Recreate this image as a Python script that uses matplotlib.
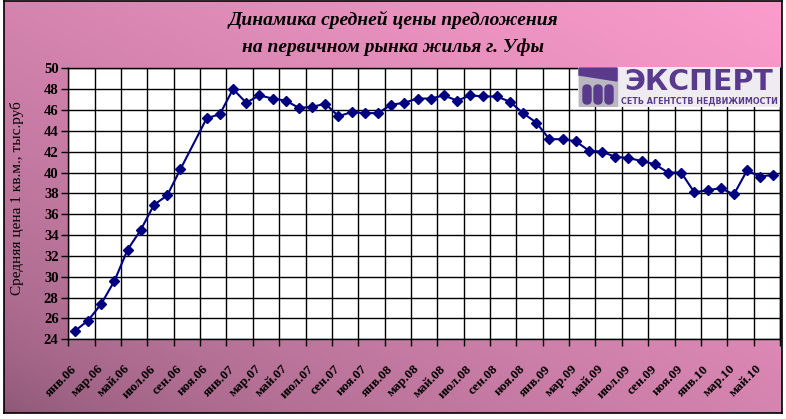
import numpy as np
import matplotlib
matplotlib.use("Agg")
import matplotlib.pyplot as plt
from matplotlib.colors import to_rgb
from matplotlib.patches import Rectangle, Polygon, FancyBboxPatch

# monthly categories, jan 2006 .. jun 2010
months = ["янв", "фев", "мар", "апр", "май", "июн", "июл", "авг", "сен", "окт", "ноя", "дек"]
years = ["06", "07", "08", "09", "10"]
categories = [f"{m}.{y}" for y in years for m in months][:54]

# average offer price, thousand rub per m2 (Oct 2006 missing in source)
price = [24.8, 25.8, 27.4, 29.6, 32.6, 34.5, 36.9, 37.8, 40.3, None, 45.2, 45.6,
         48.0, 46.7, 47.4, 47.1, 46.9, 46.2, 46.3, 46.6, 45.4, 45.8, 45.7, 45.7,
         46.5, 46.7, 47.1, 47.1, 47.4, 46.9, 47.4, 47.3, 47.3, 46.8, 45.7, 44.8,
         43.2, 43.2, 43.0, 42.1, 42.0, 41.5, 41.4, 41.1, 40.8, 40.0, 40.0, 38.1,
         38.3, 38.5, 37.9, 40.2, 39.6, 39.8]

title_lines = ["Динамика средней цены предложения", "на первичном рынка жилья г. Уфы"]
y_label = "Средняя цена 1 кв.м., тыс.руб"

W, H = 786, 419
fig = plt.figure(figsize=(W / 100, H / 100), dpi=100)
fig.patch.set_facecolor("white")

# pink gradient chart background with black border
bg = fig.add_axes([4 / W, 6 / H, 778 / W, 412 / H])
c_dark = np.array(to_rgb("#8a5674"))
c_light = np.array(to_rgb("#fb9ccd"))
gx, gy = np.meshgrid(np.linspace(0, 1, 200), np.linspace(0, 1, 120))
t = np.clip(0.5 * gx + 0.5 * gy, 0, 1) ** 0.6
t = t[..., None]
bg.imshow(c_dark * (1 - t) + c_light * t, origin="lower", aspect="auto", extent=[0, 1, 0, 1])
bg.set_xticks([])
bg.set_yticks([])
for s in bg.spines.values():
    s.set_linewidth(1.2)
    s.set_color("black")

serif = "Liberation Serif"

for i, line in enumerate(title_lines):
    fig.text(0.5, 1 - (20 + 27 * i) / H, line, ha="center", va="center",
             fontsize=14, fontweight="bold", fontstyle="italic", family=serif)

ax = fig.add_axes([68.3 / W, 79.7 / H, 711.7 / W, 271 / H])
ax.set_facecolor("white")

n = len(categories)
xs = [i + 0.5 for i, v in enumerate(price) if v is not None]
ys = [v for v in price if v is not None]
ax.plot(xs, ys, color="#000080", lw=1.5, marker="D", markersize=5.5,
        markerfacecolor="#000080", markeredgecolor="#000080", zorder=3)

ax.set_xlim(0, n)
ax.set_ylim(24, 50)
ax.set_yticks(np.arange(24, 51, 2))
ax.set_xticks(np.arange(0, n + 1, 2))
ax.set_xticklabels([])
ax.set_xticks(np.arange(0, n, 2) + 0.5, minor=True)
ax.set_xticklabels(categories[::2], minor=True, rotation=45, ha="right",
                   rotation_mode="anchor", va="center", fontsize=9.5,
                   fontweight="bold", family=serif)
ax.tick_params(axis="x", which="minor", length=0, pad=20)
ax.tick_params(axis="x", which="major", length=5, direction="out", width=1)
ax.tick_params(axis="y", length=5, direction="out", width=1, pad=2)
for lab in ax.get_yticklabels():
    lab.set_fontsize(10.5)
    lab.set_fontweight("bold")
    lab.set_family(serif)

ax.grid(True, which="major", color="black", lw=1.0)
ax.set_axisbelow(True)
for s in ax.spines.values():
    s.set_linewidth(1.0)

ax.set_ylabel(y_label, fontsize=11, family=serif, va="center")
ax.yaxis.set_label_coords(-0.072, 0.52)

# logo "ЭКСПЕРТ" in the top right corner
logo = fig.add_axes([578 / W, (H - 107) / H, 202 / W, 40 / H])
logo.set_xlim(0, 202)
logo.set_ylim(0, 40)
logo.axis("off")
purple = "#5a3a8c"
logo.add_patch(Rectangle((0, 0), 202, 40, color="#eeecf1", zorder=0))
logo.add_patch(Rectangle((1, 1), 38, 38, color="#b9b8c0", zorder=1))
logo.add_patch(Polygon([(1, 39), (39, 39), (39, 26), (1, 32)], color=purple, zorder=2))
for bx in (5, 16, 27):
    logo.add_patch(FancyBboxPatch((bx, 3), 8, 19, boxstyle="round,pad=0,rounding_size=4",
                                  color=purple, zorder=2))
logo.text(121, 25, "ЭКСПЕРТ", ha="center", va="center", fontsize=20.5,
          fontweight="heavy", color=purple, family="DejaVu Sans")
logo.text(121, 6, "СЕТЬ АГЕНТСТВ НЕДВИЖИМОСТИ", ha="center", va="center",
          fontsize=5.8, fontweight="bold", color=purple, family="DejaVu Sans")

fig.savefig("out.png", dpi=100)
